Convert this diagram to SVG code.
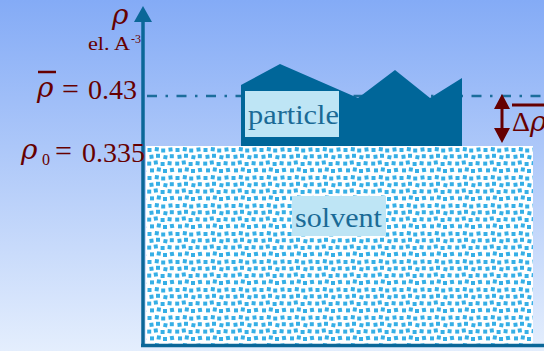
<svg xmlns="http://www.w3.org/2000/svg" width="544" height="351" viewBox="0 0 544 351">
  <defs>
    <linearGradient id="bg" x1="0" y1="0" x2="0" y2="1">
      <stop offset="0" stop-color="#84abf6"/>
      <stop offset="1" stop-color="#e4eefd"/>
    </linearGradient>
    <pattern id="dots" patternUnits="userSpaceOnUse" x="147" y="147" width="28" height="28">
      <rect width="28" height="28" fill="#ffffff"/>
      <g fill="#36afe6">
        <rect x="0.5" y="1.0" width="4" height="4"/>
        <rect x="7.8" y="0.2" width="4" height="4" transform="rotate(8 9.8 2.2)"/>
        <rect x="14.2" y="1.5" width="4" height="4"/>
        <rect x="21.5" y="0.6" width="4" height="4" transform="rotate(-7 23.5 2.6)"/>
        <rect x="2.5" y="7.8" width="4" height="4" transform="rotate(-6 4.5 9.8)"/>
        <rect x="9.0" y="6.8" width="4" height="4"/>
        <rect x="16.4" y="8.2" width="4" height="4" transform="rotate(10 18.4 10.2)"/>
        <rect x="22.8" y="7.2" width="4" height="4"/>
        <rect x="0.2" y="14.6" width="4" height="4"/>
        <rect x="6.8" y="13.5" width="4" height="4" transform="rotate(-8 8.8 15.5)"/>
        <rect x="13.6" y="15.0" width="4" height="4"/>
        <rect x="20.6" y="14.2" width="4" height="4" transform="rotate(6 22.6 16.2)"/>
        <rect x="3.0" y="21.4" width="4" height="4"/>
        <rect x="9.8" y="20.5" width="4" height="4" transform="rotate(9 11.8 22.5)"/>
        <rect x="16.0" y="22.0" width="4" height="4"/>
        <rect x="23.0" y="21.0" width="4" height="4" transform="rotate(-9 25 23)"/>
      </g>
    </pattern>
  </defs>
  <style>
    .mr { fill: #660000; font-family: "Liberation Serif", "Times New Roman", serif; }
    .it { font-style: italic; font-family: "DejaVu Serif", "Liberation Serif", serif; }
    .lbl { fill: #1a6a96; font-family: "Liberation Serif", "Times New Roman", serif; font-size: 28px; }
    .lblbox { fill: #bee5f5; }
    .ax { stroke: #0b6798; stroke-width: 3.5; fill: none; }
  </style>

  <rect width="544" height="351" fill="url(#bg)"/>

  <g id="connectors">
    <line x1="147" y1="96" x2="544" y2="96" stroke="#1b6d9b" stroke-width="2.5" stroke-dasharray="10 8.5 2.5 8.5"/>
  </g>

  <g id="particle">
    <polygon points="241,85 280,64 358,98 395,70 430,98 462,78 462,147 241,147" fill="#006699"/>
    <rect class="lblbox" x="245" y="91" width="94" height="46"/>
    <text class="lbl" x="248" y="124" textLength="91" lengthAdjust="spacingAndGlyphs">particle</text>
  </g>

  <g id="solvent">
    <rect x="146" y="146" width="387" height="198" fill="url(#dots)"/>
    <rect class="lblbox" x="292" y="196" width="94" height="40"/>
    <text class="lbl" x="295" y="227" textLength="87" lengthAdjust="spacingAndGlyphs">solvent</text>
  </g>

  <g id="axes">
    <line class="ax" x1="143" y1="20" x2="143" y2="347"/>
    <line class="ax" x1="141" y1="345.5" x2="544" y2="345.5"/>
    <polygon points="143,6 134,22 152,22" fill="#0b6798"/>
  </g>

  <g id="axis-labels">
    <text class="mr it" x="112" y="24" font-size="28">ρ</text>
    <text class="mr" x="88" y="50" font-size="19" textLength="42" lengthAdjust="spacingAndGlyphs">el. A</text>
    <text class="mr" x="131" y="43" font-size="12">-3</text>
  </g>

  <g id="rho-bar">
    <line x1="38" y1="72" x2="56" y2="72" stroke="#660000" stroke-width="2.5"/>
    <text class="mr it" x="37" y="97" font-size="28">ρ</text>
    <text class="mr" x="62" y="99" font-size="30">=</text>
    <text class="mr" x="88" y="99" font-size="28">0.43</text>
  </g>

  <g id="rho-zero">
    <text class="mr it" x="21" y="159" font-size="28">ρ</text>
    <text class="mr" x="42" y="165" font-size="16">0</text>
    <text class="mr" x="55" y="161" font-size="30">=</text>
    <text class="mr" x="82" y="162" font-size="28">0.335</text>
  </g>

  <g id="delta-rho">
    <line x1="502" y1="105" x2="502" y2="132" stroke="#660000" stroke-width="3"/>
    <polygon points="502,94 494,109 510,109" fill="#660000"/>
    <polygon points="502,143 494,128 510,128" fill="#660000"/>
    <line x1="512" y1="105" x2="544" y2="105" stroke="#660000" stroke-width="3"/>
    <text class="mr" x="512" y="131" font-size="28">Δ<tspan class="it" font-size="28">ρ</tspan></text>
  </g>
</svg>
